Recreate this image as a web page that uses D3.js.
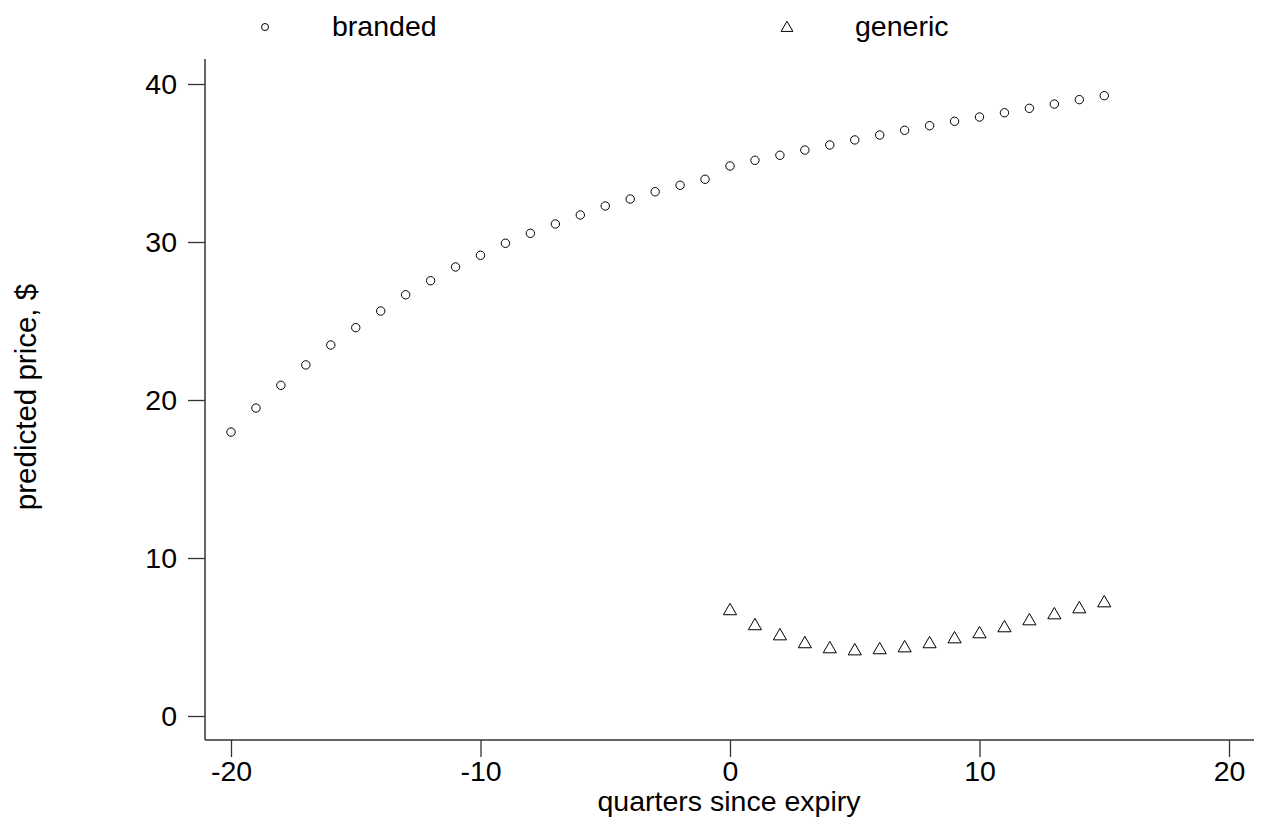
<!DOCTYPE html>
<html>
<head>
<meta charset="utf-8">
<script src="https://cdn.jsdelivr.net/npm/d3@7"></script>
<style>
  body { margin: 0; background: #fff; }
  text { font-family: "Liberation Sans", Arial, sans-serif; fill: #000; }
</style>
</head>
<body>
<svg id="chart" width="1262" height="821"></svg>
<script>
// quarters since patent expiry
var brandedQuarters = d3.range(-20, 16);
var brandedPrice = [17.97, 19.49, 20.93, 22.22, 23.48, 24.58, 25.63, 26.66, 27.55, 28.42,
                    29.16, 29.92, 30.55, 31.14, 31.71, 32.28, 32.72, 33.18, 33.59, 33.97,
                    34.81, 35.17, 35.49, 35.82, 36.14, 36.46, 36.77, 37.07, 37.36, 37.64,
                    37.91, 38.18, 38.46, 38.73, 39.01, 39.26];
var genericQuarters = d3.range(0, 16);
var genericPrice = [6.65, 5.70, 5.06, 4.56, 4.24, 4.11, 4.18, 4.30, 4.56, 4.87,
                    5.19, 5.57, 6.01, 6.39, 6.77, 7.15];
var xTicks = [-20, -10, 0, 10, 20];
var yTicks = [0, 10, 20, 30, 40];

var svg = d3.select("#chart");

var plotLeft = 205, plotRight = 1254, plotTop = 59, plotBottom = 740;
var fontSize = "28.5px";

var x = d3.scaleLinear().domain([-20, 20]).range([231, 1229]);
var y = d3.scaleLinear().domain([0, 40]).range([716, 84]);

// axes
var fmt = function(d) { return String(d); };
var xAxis = d3.axisBottom(x).tickValues(xTicks).tickFormat(fmt).tickSize(17).tickPadding(4).tickSizeOuter(0);
var yAxis = d3.axisLeft(y).tickValues(yTicks).tickFormat(fmt).tickSize(17).tickPadding(11).tickSizeOuter(0);

var gx = svg.append("g").attr("transform", "translate(0," + plotBottom + ")").call(xAxis);
var gy = svg.append("g").attr("transform", "translate(" + plotLeft + ",0)").call(yAxis);

[gx, gy].forEach(function(g) {
  g.select(".domain").remove();
  g.selectAll(".tick line").attr("stroke", "#333").attr("stroke-width", 1.3);
  g.selectAll(".tick text").style("font-size", fontSize).attr("fill", "#000")
    .style("font-family", "'Liberation Sans', Arial, sans-serif");
});
gx.selectAll(".tick text").attr("dy", "0.71em");

svg.append("line").attr("x1", plotLeft).attr("x2", plotRight).attr("y1", plotBottom).attr("y2", plotBottom)
  .attr("stroke", "#333").attr("stroke-width", 1.5);
svg.append("line").attr("x1", plotLeft).attr("x2", plotLeft).attr("y1", plotTop).attr("y2", plotBottom)
  .attr("stroke", "#333").attr("stroke-width", 1.5);

// axis titles
svg.append("text").attr("x", 729).attr("y", 811).attr("text-anchor", "middle")
  .style("font-size", fontSize).text("quarters since expiry");
svg.append("text").attr("transform", "translate(36,397) rotate(-90)").attr("text-anchor", "middle")
  .style("font-size", "29.5px").text("predicted price, $");

// branded: hollow circles
svg.append("g").selectAll("circle")
  .data(brandedQuarters)
  .join("circle")
  .attr("cx", function(d) { return x(d); })
  .attr("cy", function(d, i) { return y(brandedPrice[i]); })
  .attr("r", 4.2)
  .attr("fill", "none").attr("stroke", "#000").attr("stroke-width", 1);

// generic: hollow triangles
var tri = d3.symbol().type(d3.symbolTriangle).size(75);
svg.append("g").selectAll("path")
  .data(genericQuarters)
  .join("path")
  .attr("d", tri)
  .attr("transform", function(d, i) { return "translate(" + x(d) + "," + y(genericPrice[i]) + ")"; })
  .attr("fill", "none").attr("stroke", "#000").attr("stroke-width", 1);

// legend
var legend = svg.append("g");
legend.append("circle").attr("cx", 265).attr("cy", 27).attr("r", 3.5)
  .attr("fill", "none").attr("stroke", "#000");
legend.append("text").attr("x", 332).attr("y", 36).style("font-size", fontSize).text("branded");
legend.append("path").attr("d", d3.symbol().type(d3.symbolTriangle).size(60))
  .attr("transform", "translate(787,28)").attr("fill", "none").attr("stroke", "#000");
legend.append("text").attr("x", 855).attr("y", 36).style("font-size", fontSize).text("generic");
</script>
</body>
</html>
